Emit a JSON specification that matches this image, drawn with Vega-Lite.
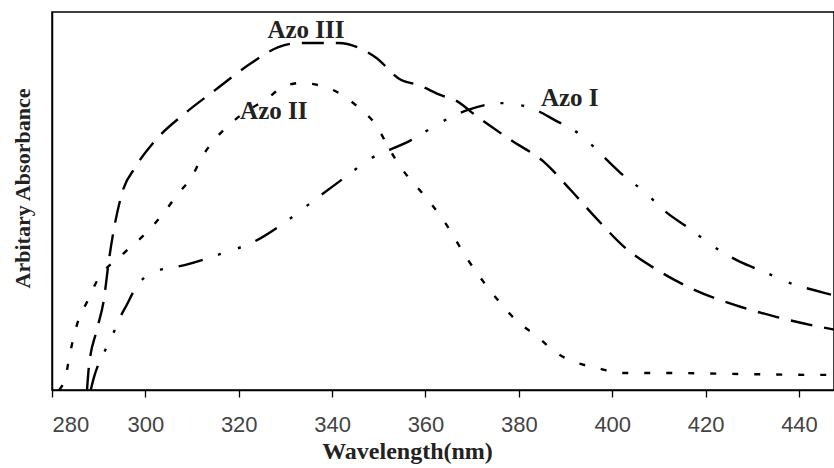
{
  "$schema": "https://vega.github.io/schema/vega-lite/v6.json",
  "width": 782,
  "height": 378,
  "autosize": {"type": "none"},
  "padding": {"left": 52, "top": 12, "right": 0, "bottom": 78},
  "background": "white",
  "config": {"view": {"stroke": "black", "strokeWidth": 1.5}},
  "datasets": {
    "curves": [
      {"s": "Azo III", "wl": 287.5, "a": 0},
      {"s": "Azo III", "wl": 287.9, "a": 0.061},
      {"s": "Azo III", "wl": 289.6, "a": 0.159},
      {"s": "Azo III", "wl": 291.1, "a": 0.238},
      {"s": "Azo III", "wl": 292.2, "a": 0.344},
      {"s": "Azo III", "wl": 295.0, "a": 0.521},
      {"s": "Azo III", "wl": 297.9, "a": 0.590},
      {"s": "Azo III", "wl": 302.2, "a": 0.661},
      {"s": "Azo III", "wl": 308.6, "a": 0.733},
      {"s": "Azo III", "wl": 315.0, "a": 0.794},
      {"s": "Azo III", "wl": 322.7, "a": 0.865},
      {"s": "Azo III", "wl": 328.5, "a": 0.907},
      {"s": "Azo III", "wl": 332.8, "a": 0.918},
      {"s": "Azo III", "wl": 341.3, "a": 0.918},
      {"s": "Azo III", "wl": 349.2, "a": 0.881},
      {"s": "Azo III", "wl": 354.8, "a": 0.820},
      {"s": "Azo III", "wl": 358.4, "a": 0.807},
      {"s": "Azo III", "wl": 363.3, "a": 0.780},
      {"s": "Azo III", "wl": 366.3, "a": 0.767},
      {"s": "Azo III", "wl": 371.2, "a": 0.722},
      {"s": "Azo III", "wl": 378.3, "a": 0.661},
      {"s": "Azo III", "wl": 385.6, "a": 0.601},
      {"s": "Azo III", "wl": 391.1, "a": 0.529},
      {"s": "Azo III", "wl": 396.9, "a": 0.450},
      {"s": "Azo III", "wl": 402.6, "a": 0.378},
      {"s": "Azo III", "wl": 409.7, "a": 0.317},
      {"s": "Azo III", "wl": 417.6, "a": 0.265},
      {"s": "Azo III", "wl": 426.2, "a": 0.225},
      {"s": "Azo III", "wl": 435.3, "a": 0.193},
      {"s": "Azo III", "wl": 444.5, "a": 0.167},
      {"s": "Azo III", "wl": 447.5, "a": 0.160},
      {"s": "Azo II", "wl": 281.5, "a": 0},
      {"s": "Azo II", "wl": 283.0, "a": 0.040},
      {"s": "Azo II", "wl": 283.8, "a": 0.093},
      {"s": "Azo II", "wl": 284.7, "a": 0.143},
      {"s": "Azo II", "wl": 285.8, "a": 0.190},
      {"s": "Azo II", "wl": 287.5, "a": 0.233},
      {"s": "Azo II", "wl": 289.4, "a": 0.283},
      {"s": "Azo II", "wl": 295.4, "a": 0.362},
      {"s": "Azo II", "wl": 300.1, "a": 0.415},
      {"s": "Azo II", "wl": 303.9, "a": 0.468},
      {"s": "Azo II", "wl": 307.1, "a": 0.521},
      {"s": "Azo II", "wl": 309.9, "a": 0.563},
      {"s": "Azo II", "wl": 312.1, "a": 0.616},
      {"s": "Azo II", "wl": 314.2, "a": 0.653},
      {"s": "Azo II", "wl": 317.2, "a": 0.693},
      {"s": "Azo II", "wl": 322.1, "a": 0.741},
      {"s": "Azo II", "wl": 325.7, "a": 0.767},
      {"s": "Azo II", "wl": 329.1, "a": 0.799},
      {"s": "Azo II", "wl": 333.2, "a": 0.812},
      {"s": "Azo II", "wl": 338.5, "a": 0.802},
      {"s": "Azo II", "wl": 342.8, "a": 0.775},
      {"s": "Azo II", "wl": 346.2, "a": 0.741},
      {"s": "Azo II", "wl": 349.4, "a": 0.701},
      {"s": "Azo II", "wl": 351.6, "a": 0.653},
      {"s": "Azo II", "wl": 353.7, "a": 0.608},
      {"s": "Azo II", "wl": 356.3, "a": 0.563},
      {"s": "Azo II", "wl": 359.1, "a": 0.524},
      {"s": "Azo II", "wl": 363.8, "a": 0.450},
      {"s": "Azo II", "wl": 369.1, "a": 0.344},
      {"s": "Azo II", "wl": 375.5, "a": 0.238},
      {"s": "Azo II", "wl": 379.8, "a": 0.180},
      {"s": "Azo II", "wl": 384.1, "a": 0.140},
      {"s": "Azo II", "wl": 387.7, "a": 0.101},
      {"s": "Azo II", "wl": 392.0, "a": 0.074},
      {"s": "Azo II", "wl": 396.9, "a": 0.058},
      {"s": "Azo II", "wl": 401.8, "a": 0.045},
      {"s": "Azo II", "wl": 412.5, "a": 0.045},
      {"s": "Azo II", "wl": 428.9, "a": 0.042},
      {"s": "Azo II", "wl": 443.2, "a": 0.040},
      {"s": "Azo II", "wl": 447.5, "a": 0.040},
      {"s": "Azo I", "wl": 288.3, "a": 0},
      {"s": "Azo I", "wl": 289.0, "a": 0.034},
      {"s": "Azo I", "wl": 291.1, "a": 0.098},
      {"s": "Azo I", "wl": 292.8, "a": 0.140},
      {"s": "Azo I", "wl": 294.3, "a": 0.185},
      {"s": "Azo I", "wl": 296.0, "a": 0.225},
      {"s": "Azo I", "wl": 297.9, "a": 0.270},
      {"s": "Azo I", "wl": 301.4, "a": 0.310},
      {"s": "Azo I", "wl": 308.6, "a": 0.331},
      {"s": "Azo I", "wl": 316.1, "a": 0.360},
      {"s": "Azo I", "wl": 323.2, "a": 0.392},
      {"s": "Azo I", "wl": 330.6, "a": 0.450},
      {"s": "Azo I", "wl": 337.1, "a": 0.511},
      {"s": "Azo I", "wl": 342.8, "a": 0.563},
      {"s": "Azo I", "wl": 347.7, "a": 0.608},
      {"s": "Azo I", "wl": 356.9, "a": 0.661},
      {"s": "Azo I", "wl": 359.9, "a": 0.683},
      {"s": "Azo I", "wl": 364.2, "a": 0.714},
      {"s": "Azo I", "wl": 369.1, "a": 0.741},
      {"s": "Azo I", "wl": 376.2, "a": 0.759},
      {"s": "Azo I", "wl": 382.6, "a": 0.746},
      {"s": "Azo I", "wl": 387.7, "a": 0.714},
      {"s": "Azo I", "wl": 393.2, "a": 0.675},
      {"s": "Azo I", "wl": 398.4, "a": 0.614},
      {"s": "Azo I", "wl": 401.8, "a": 0.574},
      {"s": "Azo I", "wl": 406.9, "a": 0.524},
      {"s": "Azo I", "wl": 411.8, "a": 0.468},
      {"s": "Azo I", "wl": 416.1, "a": 0.431},
      {"s": "Azo I", "wl": 421.9, "a": 0.378},
      {"s": "Azo I", "wl": 427.4, "a": 0.339},
      {"s": "Azo I", "wl": 431.7, "a": 0.317},
      {"s": "Azo I", "wl": 438.1, "a": 0.283},
      {"s": "Azo I", "wl": 445.4, "a": 0.257},
      {"s": "Azo I", "wl": 447.5, "a": 0.250}
    ],
    "labels": [
      {"t": "Azo III", "wl": 334.4, "a": 0.952},
      {"t": "Azo II", "wl": 327.5, "a": 0.738},
      {"t": "Azo I", "wl": 390.9, "a": 0.772}
    ]
  },
  "layer": [
    {
      "data": {"name": "curves"},
      "mark": {"type": "line", "color": "black", "strokeWidth": 2.4, "clip": true, "interpolate": "monotone"},
      "encoding": {
        "x": {
          "field": "wl", "type": "quantitative",
          "scale": {"domain": [280, 447.5], "nice": false, "zero": false},
          "axis": {
            "values": [280, 300, 320, 340, 360, 380, 400, 420, 440],
            "grid": false,
            "domainColor": "black", "domainWidth": 1.5,
            "tickColor": "black", "tickSize": 7, "tickWidth": 1.3,
            "labelFont": "Liberation Sans", "labelFontSize": 22, "labelColor": "#444",
            "labelPadding": 17,
            "title": "Wavelength(nm)",
            "titleFont": "Liberation Serif", "titleFontSize": 24, "titleFontWeight": "bold",
            "titleColor": "#222",
            "titleX": 355, "titleY": 61, "titleBaseline": "middle", "titleAlign": "center"
          }
        },
        "y": {
          "field": "a", "type": "quantitative",
          "scale": {"domain": [0, 1], "nice": false},
          "axis": {
            "labels": false, "ticks": false, "grid": false,
            "domainColor": "black", "domainWidth": 1.5,
            "title": "Arbitary Absorbance",
            "titleFont": "Liberation Serif", "titleFontSize": 22, "titleFontWeight": "bold",
            "titleColor": "#222",
            "titleAngle": 270, "titleX": -30, "titleY": 176, "titleAlign": "center", "titleBaseline": "middle"
          }
        },
        "detail": {"field": "s"},
        "strokeDash": {
          "field": "s", "type": "nominal",
          "scale": {"domain": ["Azo III", "Azo II", "Azo I"], "range": [[22, 12], [6, 16], [25, 16, 3, 18, 3, 16]]},
          "legend": null
        }
      }
    },
    {
      "data": {"name": "labels"},
      "mark": {"type": "text", "font": "Liberation Serif", "fontSize": 25, "fontWeight": "bold", "color": "#222", "align": "center", "baseline": "middle"},
      "encoding": {
        "x": {"field": "wl", "type": "quantitative"},
        "y": {"field": "a", "type": "quantitative"},
        "text": {"field": "t"}
      }
    }
  ]
}
